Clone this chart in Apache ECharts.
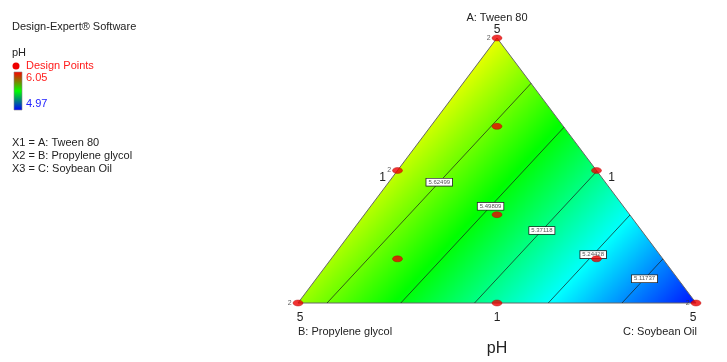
<!DOCTYPE html>
<html><head><meta charset="utf-8">
<script src="https://cdn.jsdelivr.net/npm/echarts@6/dist/echarts.min.js"></script>
<style>html,body{margin:0;padding:0;background:#fff}#main{width:727px;height:362px}</style>
</head><body><div id="main"></div>
<script>
// Design points as mixture fractions (A: Tween 80, B: Propylene glycol, C: Soybean Oil)
const pointA = [1, 0, 0, 0.5, 0.5, 0, 1/3, 2/3, 1/6, 1/6];
const pointB = [0, 1, 0, 0.5, 0, 0.5, 1/3, 1/6, 2/3, 1/6];
const pointC = [0, 0, 1, 0, 0.5, 0.5, 1/3, 1/6, 1/6, 2/3];
const pointReps = [2, 2, 2, 2, 1, 1, 1, 1, 1, 1];
// Linear mixture model: predicted pH at pure A, B, C
const modelCoef = [5.756, 5.675, 4.990];
const contourLevels = [5.62499, 5.49809, 5.37118, 5.24428, 5.11737];
const contourLabels = ['5.62499', '5.49809', '5.37118', '5.24428', '5.11737'];
const phRange = [4.97, 6.05];
const phRangeLabels = ['6.05', '4.97'];
const vertexTicks = ['5', '5', '5'];   // A, B, C
const edgeTicks = ['1', '1', '1'];     // AB, AC, BC
const axisNames = ['A: Tween 80', 'B: Propylene glycol', 'C: Soybean Oil'];
const chartTitle = 'pH';
const softwareName = 'Design-Expert\u00ae Software';
const factorLines = ['X1 = A: Tween 80', 'X2 = B: Propylene glycol', 'X3 = C: Soybean Oil'];

const FONT = 'Liberation Sans, Arial, sans-serif';
function toXY(a, b, c) { return [c + a / 2, a]; }
function model(t) { return modelCoef[0] * t[0] + modelCoef[1] * t[1] + modelCoef[2] * t[2]; }
const fillStops = [
  {offset: 0, color: '#0000ff'}, {offset: 0.25, color: '#00ffff'},
  {offset: 0.5, color: '#00ff00'}, {offset: 0.75, color: '#ffff00'}, {offset: 1, color: '#ff0000'}];

function renderFill(params, api) {
  const PA = api.coord(toXY(1, 0, 0)), PB = api.coord(toXY(0, 1, 0)), PC = api.coord(toXY(0, 0, 1));
  const v = modelCoef;
  const d1 = [PA[0] - PB[0], PA[1] - PB[1]], d2 = [PC[0] - PB[0], PC[1] - PB[1]];
  const r1 = v[0] - v[1], r2 = v[2] - v[1];
  const det = d1[0] * d2[1] - d1[1] * d2[0];
  const gx = (r1 * d2[1] - d1[1] * r2) / det;
  const gy = (d1[0] * r2 - r1 * d2[0]) / det;
  const g2 = gx * gx + gy * gy;
  const s0 = (phRange[0] - v[1]) / g2, s1 = (phRange[1] - v[1]) / g2;
  return {
    type: 'polygon', shape: {points: [PA, PB, PC]},
    style: {
      fill: {type: 'linear', global: true,
        x: PB[0] + gx * s0, y: PB[1] + gy * s0, x2: PB[0] + gx * s1, y2: PB[1] + gy * s1,
        colorStops: fillStops},
      stroke: '#666', lineWidth: 1
    }
  };
}

const verts = [[1, 0, 0], [0, 1, 0], [0, 0, 1]];
function contourPoints(L) {
  const pts = [];
  const edges = [[1, 2], [2, 0], [0, 1]];
  edges.forEach(([i, j]) => {
    const vu = modelCoef[i], vw = modelCoef[j];
    if (vu !== vw && (L - vu) * (L - vw) <= 0) {
      const t = (L - vu) / (vw - vu);
      const p = verts[i].map((x, k) => x + t * (verts[j][k] - x));
      pts.push(p);
    }
  });
  pts.sort((p, q) => p[0] - q[0]);
  return pts.slice(0, 2);
}

function renderContour(params, api) {
  const idx = api.value(0);
  const pts = contourPoints(contourLevels[idx]);
  if (pts.length < 2) return;
  const p0 = api.coord(toXY(...pts[0])), p1 = api.coord(toXY(...pts[1]));
  const f = 0.55;
  const lx = p0[0] + (p1[0] - p0[0]) * f, ly = p0[1] + (p1[1] - p0[1]) * f;
  return {
    type: 'group', children: [
      {type: 'line', shape: {x1: p0[0], y1: p0[1], x2: p1[0], y2: p1[1]}, style: {stroke: '#1a1a1a', lineWidth: 0.7}},
      {type: 'text', x: lx, y: ly, style: {
        text: contourLabels[idx], fill: '#555', font: '6px ' + FONT, align: 'center', verticalAlign: 'middle',
        backgroundColor: '#fff', borderColor: '#222', borderWidth: 0.8, padding: [0, 2], lineHeight: 7}}
    ]
  };
}

// annotation texts anchored at ternary points (offsets in pixels)
const annot = [
  {p: [1, 0, 0], t: axisNames[0], dx: 0, dy: -20, align: 'center', size: 11},
  {p: [1, 0, 0], t: vertexTicks[0], dx: 0, dy: -8, align: 'center', size: 12},
  {p: [0, 1, 0], t: vertexTicks[1], dx: 2, dy: 15, align: 'center', size: 12},
  {p: [0, 0, 1], t: vertexTicks[2], dx: -3, dy: 15, align: 'center', size: 12},
  {p: [0.5, 0.5, 0], t: edgeTicks[0], dx: -15, dy: 7, align: 'center', size: 12},
  {p: [0.5, 0, 0.5], t: edgeTicks[1], dx: 15, dy: 7, align: 'center', size: 12},
  {p: [0, 0.5, 0.5], t: edgeTicks[2], dx: 0, dy: 15, align: 'center', size: 12},
  {p: [0, 1, 0], t: axisNames[1], dx: 0, dy: 29, align: 'left', size: 11},
  {p: [0, 0, 1], t: axisNames[2], dx: 1, dy: 29, align: 'right', size: 11},
  {p: [0, 0.5, 0.5], t: chartTitle, dx: 0, dy: 46, align: 'center', size: 16}
];
function renderAnnot(params, api) {
  const a = annot[api.value(0)];
  const c = api.coord(toXY(...a.p));
  return {type: 'text', x: c[0] + a.dx, y: c[1] + a.dy, style: {
    text: a.t, fill: '#222', font: a.size + 'px ' + FONT, align: a.align, verticalAlign: 'middle'}};
}

const scatterData = pointA.map((a, i) => ({value: toXY(a, pointB[i], pointC[i]), rep: pointReps[i]}));

const chart = echarts.init(document.getElementById('main'), null, {renderer: 'canvas'});
chart.setOption({
  animation: false,
  grid: {left: 298, top: 38, width: 398, height: 265},
  xAxis: {type: 'value', min: 0, max: 1, show: false},
  yAxis: {type: 'value', min: 0, max: 1, show: false},
  graphic: [
    {type: 'text', x: 12, y: 27, style: {text: softwareName, font: '11px ' + FONT, fill: '#222', verticalAlign: 'middle'}},
    {type: 'text', x: 12, y: 53, style: {text: chartTitle, font: '11px ' + FONT, fill: '#222', verticalAlign: 'middle'}},
    {type: 'circle', shape: {cx: 16, cy: 66, r: 3.5}, style: {fill: '#ee0000'}},
    {type: 'text', x: 26, y: 66, style: {text: 'Design Points', font: '11px ' + FONT, fill: '#ff1a1a', verticalAlign: 'middle'}},
    {type: 'rect', shape: {x: 14, y: 72, width: 8, height: 38}, style: {
      fill: {type: 'linear', x: 0, y: 0, x2: 0, y2: 1, colorStops: [
        {offset: 0, color: '#ff0000'}, {offset: 0.5, color: '#00ff00'}, {offset: 1, color: '#0000ff'}]},
      stroke: '#888', lineWidth: 0.6}},
    {type: 'text', x: 26, y: 78, style: {text: phRangeLabels[0], font: '11px ' + FONT, fill: '#ff2020', verticalAlign: 'middle'}},
    {type: 'text', x: 26, y: 104, style: {text: phRangeLabels[1], font: '11px ' + FONT, fill: '#2020ff', verticalAlign: 'middle'}},
    {type: 'text', x: 12, y: 143, style: {text: factorLines[0], font: '11px ' + FONT, fill: '#222', verticalAlign: 'middle'}},
    {type: 'text', x: 12, y: 156, style: {text: factorLines[1], font: '11px ' + FONT, fill: '#222', verticalAlign: 'middle'}},
    {type: 'text', x: 12, y: 169, style: {text: factorLines[2], font: '11px ' + FONT, fill: '#222', verticalAlign: 'middle'}}
  ],
  series: [
    {type: 'custom', coordinateSystem: 'cartesian2d', renderItem: renderFill, data: [[0]], clip: false, silent: true, z: 1},
    {type: 'custom', coordinateSystem: 'cartesian2d', renderItem: renderContour,
      data: contourLevels.map((_, i) => [i]), clip: false, silent: true, z: 2},
    {type: 'scatter', data: scatterData, symbol: 'circle', symbolSize: [10, 6], z: 3,
      itemStyle: {color: '#ee0000', borderColor: '#b00000', borderWidth: 0.5},
      label: {show: true, position: 'left', distance: 1, fontSize: 7, color: '#333', fontFamily: FONT,
        formatter: p => p.data.rep > 1 ? String(p.data.rep) : ''}},
    {type: 'custom', coordinateSystem: 'cartesian2d', renderItem: renderAnnot,
      data: annot.map((_, i) => [i]), clip: false, silent: true, z: 4}
  ]
});
</script></body></html>
